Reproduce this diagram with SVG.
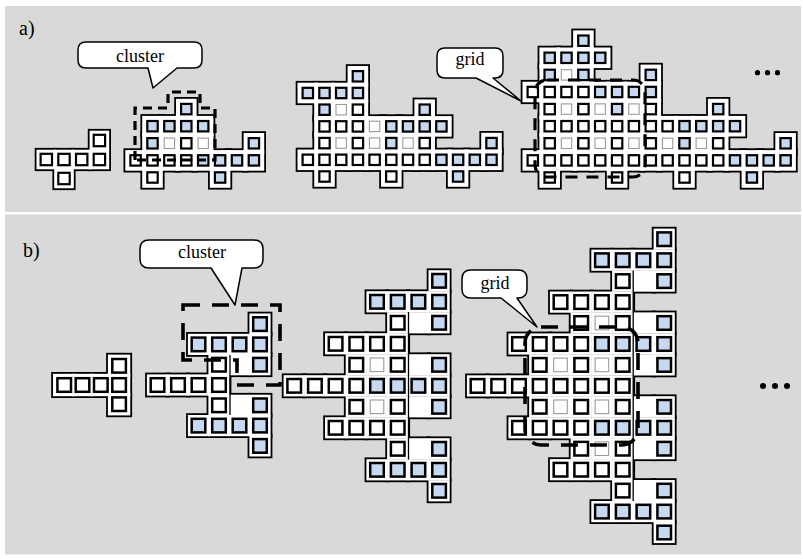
<svg xmlns="http://www.w3.org/2000/svg" width="803" height="559" viewBox="0 0 803 559">
<style>
.ol{fill:#000;stroke:#000;stroke-width:3.6}
.fi{fill:#fff;stroke:none}
.w{fill:#fff;stroke:#000;stroke-width:2.2}
.b{fill:#c5d9f1;stroke:#000;stroke-width:2.2}
.l{fill:#fff;stroke:#9a9a9a;stroke-width:1.1}
.pb .w,.pb .b{stroke-width:2.5}
.dsh{fill:none;stroke:#000;stroke-width:3.2;stroke-dasharray:9 6}
.dshb{fill:none;stroke:#000;stroke-width:3.6;stroke-dasharray:17 12}
.cb{fill:#fff;stroke:#000;stroke-width:1.5;stroke-linejoin:round}
.t{font-family:"Liberation Serif","Times New Roman",serif;font-size:18px;fill:#000}
.lab{font-family:"Liberation Serif","Times New Roman",serif;font-size:20px;fill:#000}
.il{stroke:#000;stroke-width:1.3}
</style>
<defs>
<rect id="pH" x="-9.8" y="-9.8" width="19.6" height="19.6"/>
<rect id="aH" x="-10.3" y="-10.3" width="20.6" height="20.6"/>
<rect id="bH" x="-10.6" y="-10.6" width="21.2" height="21.2"/>
<rect id="qH" x="-11.2" y="-11.2" width="22.4" height="22.4"/>
<rect id="pS" x="-5.7" y="-5.7" width="11.4" height="11.4"/>
<rect id="aS" x="-5.2" y="-5.2" width="10.4" height="10.4"/>
<rect id="bS" x="-6.8" y="-6.8" width="13.6" height="13.6"/>
<g id="a1p"><use href="#pH" x="99.4" y="140.5"/><use href="#pH" x="46.3" y="159.5"/><use href="#pH" x="64" y="159.5"/><use href="#pH" x="81.7" y="159.5"/><use href="#pH" x="99.4" y="159.5"/><use href="#pH" x="64" y="178.5"/></g>
<g id="a2p"><use href="#aH" x="186.3" y="109.1"/><use href="#aH" x="152.5" y="126.2"/><use href="#aH" x="169.4" y="126.2"/><use href="#aH" x="186.3" y="126.2"/><use href="#aH" x="203.2" y="126.2"/><use href="#aH" x="152.5" y="143.3"/><use href="#aH" x="169.4" y="143.3"/><use href="#aH" x="186.3" y="143.3"/><use href="#aH" x="203.2" y="143.3"/><use href="#aH" x="253.9" y="143.3"/><use href="#aH" x="135.6" y="160.4"/><use href="#aH" x="152.5" y="160.4"/><use href="#aH" x="169.4" y="160.4"/><use href="#aH" x="186.3" y="160.4"/><use href="#aH" x="203.2" y="160.4"/><use href="#aH" x="220.1" y="160.4"/><use href="#aH" x="237" y="160.4"/><use href="#aH" x="253.9" y="160.4"/><use href="#aH" x="152.5" y="177.5"/><use href="#aH" x="220.1" y="177.5"/></g>
<g id="a3p"><use href="#aH" x="357.9" y="76.3"/><use href="#aH" x="307.8" y="93"/><use href="#aH" x="324.5" y="93"/><use href="#aH" x="341.2" y="93"/><use href="#aH" x="357.9" y="93"/><use href="#aH" x="324.5" y="109.7"/><use href="#aH" x="341.2" y="109.7"/><use href="#aH" x="357.9" y="109.7"/><use href="#aH" x="424.7" y="109.7"/><use href="#aH" x="324.5" y="126.4"/><use href="#aH" x="341.2" y="126.4"/><use href="#aH" x="357.9" y="126.4"/><use href="#aH" x="374.6" y="126.4"/><use href="#aH" x="391.3" y="126.4"/><use href="#aH" x="408" y="126.4"/><use href="#aH" x="424.7" y="126.4"/><use href="#aH" x="441.4" y="126.4"/><use href="#aH" x="324.5" y="143.1"/><use href="#aH" x="341.2" y="143.1"/><use href="#aH" x="357.9" y="143.1"/><use href="#aH" x="374.6" y="143.1"/><use href="#aH" x="391.3" y="143.1"/><use href="#aH" x="408" y="143.1"/><use href="#aH" x="424.7" y="143.1"/><use href="#aH" x="491.5" y="143.1"/><use href="#aH" x="307.8" y="159.8"/><use href="#aH" x="324.5" y="159.8"/><use href="#aH" x="341.2" y="159.8"/><use href="#aH" x="357.9" y="159.8"/><use href="#aH" x="374.6" y="159.8"/><use href="#aH" x="391.3" y="159.8"/><use href="#aH" x="408" y="159.8"/><use href="#aH" x="424.7" y="159.8"/><use href="#aH" x="441.4" y="159.8"/><use href="#aH" x="458.1" y="159.8"/><use href="#aH" x="474.8" y="159.8"/><use href="#aH" x="491.5" y="159.8"/><use href="#aH" x="324.5" y="176.5"/><use href="#aH" x="391.3" y="176.5"/><use href="#aH" x="458.1" y="176.5"/></g>
<g id="a4p"><use href="#aH" x="583.4" y="40.7"/><use href="#aH" x="549.7" y="57.8"/><use href="#aH" x="566.5" y="57.8"/><use href="#aH" x="583.4" y="57.8"/><use href="#aH" x="600.2" y="57.8"/><use href="#aH" x="549.7" y="74.9"/><use href="#aH" x="566.5" y="74.9"/><use href="#aH" x="583.4" y="74.9"/><use href="#aH" x="650.8" y="74.9"/><use href="#aH" x="532.8" y="92"/><use href="#aH" x="549.7" y="92"/><use href="#aH" x="566.5" y="92"/><use href="#aH" x="583.4" y="92"/><use href="#aH" x="600.2" y="92"/><use href="#aH" x="617.1" y="92"/><use href="#aH" x="633.9" y="92"/><use href="#aH" x="650.8" y="92"/><use href="#aH" x="549.7" y="109.1"/><use href="#aH" x="566.5" y="109.1"/><use href="#aH" x="583.4" y="109.1"/><use href="#aH" x="600.2" y="109.1"/><use href="#aH" x="617.1" y="109.1"/><use href="#aH" x="633.9" y="109.1"/><use href="#aH" x="650.8" y="109.1"/><use href="#aH" x="718.2" y="109.1"/><use href="#aH" x="549.7" y="126.2"/><use href="#aH" x="566.5" y="126.2"/><use href="#aH" x="583.4" y="126.2"/><use href="#aH" x="600.2" y="126.2"/><use href="#aH" x="617.1" y="126.2"/><use href="#aH" x="633.9" y="126.2"/><use href="#aH" x="650.8" y="126.2"/><use href="#aH" x="667.6" y="126.2"/><use href="#aH" x="684.5" y="126.2"/><use href="#aH" x="701.3" y="126.2"/><use href="#aH" x="718.2" y="126.2"/><use href="#aH" x="735" y="126.2"/><use href="#aH" x="549.7" y="143.3"/><use href="#aH" x="566.5" y="143.3"/><use href="#aH" x="583.4" y="143.3"/><use href="#aH" x="600.2" y="143.3"/><use href="#aH" x="617.1" y="143.3"/><use href="#aH" x="633.9" y="143.3"/><use href="#aH" x="650.8" y="143.3"/><use href="#aH" x="667.6" y="143.3"/><use href="#aH" x="684.5" y="143.3"/><use href="#aH" x="701.3" y="143.3"/><use href="#aH" x="718.2" y="143.3"/><use href="#aH" x="785.6" y="143.3"/><use href="#aH" x="532.8" y="160.4"/><use href="#aH" x="549.7" y="160.4"/><use href="#aH" x="566.5" y="160.4"/><use href="#aH" x="583.4" y="160.4"/><use href="#aH" x="600.2" y="160.4"/><use href="#aH" x="617.1" y="160.4"/><use href="#aH" x="633.9" y="160.4"/><use href="#aH" x="650.8" y="160.4"/><use href="#aH" x="667.6" y="160.4"/><use href="#aH" x="684.5" y="160.4"/><use href="#aH" x="701.3" y="160.4"/><use href="#aH" x="718.2" y="160.4"/><use href="#aH" x="735" y="160.4"/><use href="#aH" x="751.9" y="160.4"/><use href="#aH" x="768.7" y="160.4"/><use href="#aH" x="785.6" y="160.4"/><use href="#aH" x="549.7" y="177.5"/><use href="#aH" x="617.1" y="177.5"/><use href="#aH" x="684.5" y="177.5"/><use href="#aH" x="751.9" y="177.5"/></g>
<g id="b1p"><use href="#qH" x="119.1" y="365.8"/><use href="#qH" x="64.2" y="385"/><use href="#qH" x="82.5" y="385"/><use href="#qH" x="100.8" y="385"/><use href="#qH" x="119.1" y="385"/><use href="#qH" x="119.1" y="404.2"/></g>
<g id="b2p"><use href="#bH" x="260" y="324.1"/><use href="#bH" x="198.5" y="344.4"/><use href="#bH" x="219" y="344.4"/><use href="#bH" x="239.5" y="344.4"/><use href="#bH" x="260" y="344.4"/><use href="#bH" x="219" y="364.7"/><use href="#bH" x="239.5" y="364.7"/><use href="#bH" x="260" y="364.7"/><use href="#bH" x="157.5" y="385"/><use href="#bH" x="178" y="385"/><use href="#bH" x="198.5" y="385"/><use href="#bH" x="219" y="385"/><use href="#bH" x="219" y="405.3"/><use href="#bH" x="239.5" y="405.3"/><use href="#bH" x="260" y="405.3"/><use href="#bH" x="198.5" y="425.6"/><use href="#bH" x="219" y="425.6"/><use href="#bH" x="239.5" y="425.6"/><use href="#bH" x="260" y="425.6"/><use href="#bH" x="260" y="445.9"/></g>
<g id="b3p"><use href="#bH" x="439.1" y="280.8"/><use href="#bH" x="377" y="301.8"/><use href="#bH" x="397.7" y="301.8"/><use href="#bH" x="418.4" y="301.8"/><use href="#bH" x="439.1" y="301.8"/><use href="#bH" x="397.7" y="322.8"/><use href="#bH" x="418.4" y="322.8"/><use href="#bH" x="439.1" y="322.8"/><use href="#bH" x="335.6" y="343.8"/><use href="#bH" x="356.3" y="343.8"/><use href="#bH" x="377" y="343.8"/><use href="#bH" x="397.7" y="343.8"/><use href="#bH" x="356.3" y="364.8"/><use href="#bH" x="377" y="364.8"/><use href="#bH" x="397.7" y="364.8"/><use href="#bH" x="418.4" y="364.8"/><use href="#bH" x="439.1" y="364.8"/><use href="#bH" x="294.2" y="385.8"/><use href="#bH" x="314.9" y="385.8"/><use href="#bH" x="335.6" y="385.8"/><use href="#bH" x="356.3" y="385.8"/><use href="#bH" x="377" y="385.8"/><use href="#bH" x="397.7" y="385.8"/><use href="#bH" x="418.4" y="385.8"/><use href="#bH" x="439.1" y="385.8"/><use href="#bH" x="356.3" y="406.8"/><use href="#bH" x="377" y="406.8"/><use href="#bH" x="397.7" y="406.8"/><use href="#bH" x="418.4" y="406.8"/><use href="#bH" x="439.1" y="406.8"/><use href="#bH" x="335.6" y="427.8"/><use href="#bH" x="356.3" y="427.8"/><use href="#bH" x="377" y="427.8"/><use href="#bH" x="397.7" y="427.8"/><use href="#bH" x="397.7" y="448.8"/><use href="#bH" x="418.4" y="448.8"/><use href="#bH" x="439.1" y="448.8"/><use href="#bH" x="377" y="469.8"/><use href="#bH" x="397.7" y="469.8"/><use href="#bH" x="418.4" y="469.8"/><use href="#bH" x="439.1" y="469.8"/><use href="#bH" x="439.1" y="490.8"/></g>
<g id="b4p"><use href="#bH" x="664.2" y="239.2"/><use href="#bH" x="601.9" y="260.2"/><use href="#bH" x="622.7" y="260.2"/><use href="#bH" x="643.4" y="260.2"/><use href="#bH" x="664.2" y="260.2"/><use href="#bH" x="622.7" y="281.1"/><use href="#bH" x="643.4" y="281.1"/><use href="#bH" x="664.2" y="281.1"/><use href="#bH" x="560.5" y="302.1"/><use href="#bH" x="581.2" y="302.1"/><use href="#bH" x="601.9" y="302.1"/><use href="#bH" x="622.7" y="302.1"/><use href="#bH" x="581.2" y="323"/><use href="#bH" x="601.9" y="323"/><use href="#bH" x="622.7" y="323"/><use href="#bH" x="643.4" y="323"/><use href="#bH" x="664.2" y="323"/><use href="#bH" x="519" y="344"/><use href="#bH" x="539.7" y="344"/><use href="#bH" x="560.5" y="344"/><use href="#bH" x="581.2" y="344"/><use href="#bH" x="601.9" y="344"/><use href="#bH" x="622.7" y="344"/><use href="#bH" x="643.4" y="344"/><use href="#bH" x="664.2" y="344"/><use href="#bH" x="539.7" y="364.9"/><use href="#bH" x="560.5" y="364.9"/><use href="#bH" x="581.2" y="364.9"/><use href="#bH" x="601.9" y="364.9"/><use href="#bH" x="622.7" y="364.9"/><use href="#bH" x="643.4" y="364.9"/><use href="#bH" x="664.2" y="364.9"/><use href="#bH" x="477.5" y="385.9"/><use href="#bH" x="498.2" y="385.9"/><use href="#bH" x="519" y="385.9"/><use href="#bH" x="539.7" y="385.9"/><use href="#bH" x="560.5" y="385.9"/><use href="#bH" x="581.2" y="385.9"/><use href="#bH" x="601.9" y="385.9"/><use href="#bH" x="622.7" y="385.9"/><use href="#bH" x="539.7" y="406.8"/><use href="#bH" x="560.5" y="406.8"/><use href="#bH" x="581.2" y="406.8"/><use href="#bH" x="601.9" y="406.8"/><use href="#bH" x="622.7" y="406.8"/><use href="#bH" x="643.4" y="406.8"/><use href="#bH" x="664.2" y="406.8"/><use href="#bH" x="519" y="427.8"/><use href="#bH" x="539.7" y="427.8"/><use href="#bH" x="560.5" y="427.8"/><use href="#bH" x="581.2" y="427.8"/><use href="#bH" x="601.9" y="427.8"/><use href="#bH" x="622.7" y="427.8"/><use href="#bH" x="643.4" y="427.8"/><use href="#bH" x="664.2" y="427.8"/><use href="#bH" x="581.2" y="448.7"/><use href="#bH" x="601.9" y="448.7"/><use href="#bH" x="622.7" y="448.7"/><use href="#bH" x="643.4" y="448.7"/><use href="#bH" x="664.2" y="448.7"/><use href="#bH" x="560.5" y="469.7"/><use href="#bH" x="581.2" y="469.7"/><use href="#bH" x="601.9" y="469.7"/><use href="#bH" x="622.7" y="469.7"/><use href="#bH" x="622.7" y="490.6"/><use href="#bH" x="643.4" y="490.6"/><use href="#bH" x="664.2" y="490.6"/><use href="#bH" x="601.9" y="511.6"/><use href="#bH" x="622.7" y="511.6"/><use href="#bH" x="643.4" y="511.6"/><use href="#bH" x="664.2" y="511.6"/><use href="#bH" x="664.2" y="532.5"/></g>
</defs>
<rect x="0" y="0" width="803" height="559" fill="#ffffff"/>
<rect x="5" y="6" width="796" height="206" fill="#d9d9d9"/>
<rect x="5" y="214.5" width="796" height="340" fill="#d9d9d9"/>
<text class="lab" x="19" y="34.5">a)</text>
<text class="lab" x="23" y="256.5">b)</text>

<g id="a-struct1">
<use href="#a1p" class="ol"/><use href="#a1p" class="fi"/>
<use href="#pS" class="w" x="99.4" y="140.5"/><use href="#pS" class="w" x="46.3" y="159.5"/><use href="#pS" class="w" x="64" y="159.5"/><use href="#pS" class="w" x="81.7" y="159.5"/><use href="#pS" class="w" x="99.4" y="159.5"/><use href="#pS" class="w" x="64" y="178.5"/>
</g>

<g id="a-struct2">
<use href="#a2p" class="ol"/><use href="#a2p" class="fi"/>
<use href="#aS" class="b" x="186.3" y="109.1"/><use href="#aS" class="b" x="152.5" y="126.2"/><use href="#aS" class="b" x="169.4" y="126.2"/><use href="#aS" class="b" x="186.3" y="126.2"/><use href="#aS" class="b" x="203.2" y="126.2"/><use href="#aS" class="b" x="152.5" y="143.3"/><use href="#aS" class="l" x="169.4" y="143.3"/><use href="#aS" class="w" x="186.3" y="143.3"/><use href="#aS" class="l" x="203.2" y="143.3"/><use href="#aS" class="b" x="253.9" y="143.3"/><use href="#aS" class="w" x="135.6" y="160.4"/><use href="#aS" class="w" x="152.5" y="160.4"/><use href="#aS" class="w" x="169.4" y="160.4"/><use href="#aS" class="w" x="186.3" y="160.4"/><use href="#aS" class="b" x="203.2" y="160.4"/><use href="#aS" class="b" x="220.1" y="160.4"/><use href="#aS" class="b" x="237" y="160.4"/><use href="#aS" class="b" x="253.9" y="160.4"/><use href="#aS" class="w" x="152.5" y="177.5"/><use href="#aS" class="b" x="220.1" y="177.5"/>
</g>

<g id="a-struct3">
<use href="#a3p" class="ol"/><use href="#a3p" class="fi"/>
<use href="#aS" class="b" x="357.9" y="76.3"/><use href="#aS" class="b" x="307.8" y="93"/><use href="#aS" class="b" x="324.5" y="93"/><use href="#aS" class="b" x="341.2" y="93"/><use href="#aS" class="b" x="357.9" y="93"/><use href="#aS" class="b" x="324.5" y="109.7"/><use href="#aS" class="l" x="341.2" y="109.7"/><use href="#aS" class="w" x="357.9" y="109.7"/><use href="#aS" class="b" x="424.7" y="109.7"/><use href="#aS" class="w" x="324.5" y="126.4"/><use href="#aS" class="w" x="341.2" y="126.4"/><use href="#aS" class="w" x="357.9" y="126.4"/><use href="#aS" class="l" x="374.6" y="126.4"/><use href="#aS" class="b" x="391.3" y="126.4"/><use href="#aS" class="b" x="408" y="126.4"/><use href="#aS" class="b" x="424.7" y="126.4"/><use href="#aS" class="b" x="441.4" y="126.4"/><use href="#aS" class="w" x="324.5" y="143.1"/><use href="#aS" class="l" x="341.2" y="143.1"/><use href="#aS" class="w" x="357.9" y="143.1"/><use href="#aS" class="l" x="374.6" y="143.1"/><use href="#aS" class="b" x="391.3" y="143.1"/><use href="#aS" class="l" x="408" y="143.1"/><use href="#aS" class="w" x="424.7" y="143.1"/><use href="#aS" class="b" x="491.5" y="143.1"/><use href="#aS" class="w" x="307.8" y="159.8"/><use href="#aS" class="w" x="324.5" y="159.8"/><use href="#aS" class="w" x="341.2" y="159.8"/><use href="#aS" class="w" x="357.9" y="159.8"/><use href="#aS" class="w" x="374.6" y="159.8"/><use href="#aS" class="w" x="391.3" y="159.8"/><use href="#aS" class="w" x="408" y="159.8"/><use href="#aS" class="w" x="424.7" y="159.8"/><use href="#aS" class="b" x="441.4" y="159.8"/><use href="#aS" class="b" x="458.1" y="159.8"/><use href="#aS" class="b" x="474.8" y="159.8"/><use href="#aS" class="b" x="491.5" y="159.8"/><use href="#aS" class="w" x="324.5" y="176.5"/><use href="#aS" class="w" x="391.3" y="176.5"/><use href="#aS" class="b" x="458.1" y="176.5"/>
</g>

<g id="a-struct4">
<use href="#a4p" class="ol"/><use href="#a4p" class="fi"/>
<use href="#aS" class="b" x="583.4" y="40.7"/><use href="#aS" class="b" x="549.7" y="57.8"/><use href="#aS" class="b" x="566.5" y="57.8"/><use href="#aS" class="b" x="583.4" y="57.8"/><use href="#aS" class="b" x="600.2" y="57.8"/><use href="#aS" class="b" x="549.7" y="74.9"/><use href="#aS" class="l" x="566.5" y="74.9"/><use href="#aS" class="b" x="583.4" y="74.9"/><use href="#aS" class="b" x="650.8" y="74.9"/><use href="#aS" class="w" x="532.8" y="92"/><use href="#aS" class="w" x="549.7" y="92"/><use href="#aS" class="w" x="566.5" y="92"/><use href="#aS" class="w" x="583.4" y="92"/><use href="#aS" class="b" x="600.2" y="92"/><use href="#aS" class="b" x="617.1" y="92"/><use href="#aS" class="b" x="633.9" y="92"/><use href="#aS" class="b" x="650.8" y="92"/><use href="#aS" class="w" x="549.7" y="109.1"/><use href="#aS" class="l" x="566.5" y="109.1"/><use href="#aS" class="w" x="583.4" y="109.1"/><use href="#aS" class="l" x="600.2" y="109.1"/><use href="#aS" class="b" x="617.1" y="109.1"/><use href="#aS" class="l" x="633.9" y="109.1"/><use href="#aS" class="w" x="650.8" y="109.1"/><use href="#aS" class="b" x="718.2" y="109.1"/><use href="#aS" class="w" x="549.7" y="126.2"/><use href="#aS" class="w" x="566.5" y="126.2"/><use href="#aS" class="w" x="583.4" y="126.2"/><use href="#aS" class="w" x="600.2" y="126.2"/><use href="#aS" class="w" x="617.1" y="126.2"/><use href="#aS" class="w" x="633.9" y="126.2"/><use href="#aS" class="w" x="650.8" y="126.2"/><use href="#aS" class="w" x="667.6" y="126.2"/><use href="#aS" class="b" x="684.5" y="126.2"/><use href="#aS" class="b" x="701.3" y="126.2"/><use href="#aS" class="b" x="718.2" y="126.2"/><use href="#aS" class="b" x="735" y="126.2"/><use href="#aS" class="w" x="549.7" y="143.3"/><use href="#aS" class="l" x="566.5" y="143.3"/><use href="#aS" class="w" x="583.4" y="143.3"/><use href="#aS" class="l" x="600.2" y="143.3"/><use href="#aS" class="w" x="617.1" y="143.3"/><use href="#aS" class="l" x="633.9" y="143.3"/><use href="#aS" class="w" x="650.8" y="143.3"/><use href="#aS" class="l" x="667.6" y="143.3"/><use href="#aS" class="b" x="684.5" y="143.3"/><use href="#aS" class="l" x="701.3" y="143.3"/><use href="#aS" class="w" x="718.2" y="143.3"/><use href="#aS" class="b" x="785.6" y="143.3"/><use href="#aS" class="w" x="532.8" y="160.4"/><use href="#aS" class="w" x="549.7" y="160.4"/><use href="#aS" class="w" x="566.5" y="160.4"/><use href="#aS" class="w" x="583.4" y="160.4"/><use href="#aS" class="w" x="600.2" y="160.4"/><use href="#aS" class="w" x="617.1" y="160.4"/><use href="#aS" class="w" x="633.9" y="160.4"/><use href="#aS" class="w" x="650.8" y="160.4"/><use href="#aS" class="w" x="667.6" y="160.4"/><use href="#aS" class="w" x="684.5" y="160.4"/><use href="#aS" class="w" x="701.3" y="160.4"/><use href="#aS" class="w" x="718.2" y="160.4"/><use href="#aS" class="b" x="735" y="160.4"/><use href="#aS" class="b" x="751.9" y="160.4"/><use href="#aS" class="b" x="768.7" y="160.4"/><use href="#aS" class="b" x="785.6" y="160.4"/><use href="#aS" class="w" x="549.7" y="177.5"/><use href="#aS" class="w" x="617.1" y="177.5"/><use href="#aS" class="w" x="684.5" y="177.5"/><use href="#aS" class="b" x="751.9" y="177.5"/>
</g>

<g class="pb">
<g id="b-struct1">
<use href="#b1p" class="ol"/><use href="#b1p" class="fi"/>
<use href="#bS" class="w" x="119.1" y="365.8"/><use href="#bS" class="w" x="64.2" y="385"/><use href="#bS" class="w" x="82.5" y="385"/><use href="#bS" class="w" x="100.8" y="385"/><use href="#bS" class="w" x="119.1" y="385"/><use href="#bS" class="w" x="119.1" y="404.2"/>
</g>

<g id="b-struct2">
<use href="#b2p" class="ol"/><use href="#b2p" class="fi"/>
<line class="il" x1="230" y1="355" x2="230" y2="415"/>
<use href="#bS" class="b" x="260" y="324.1"/><use href="#bS" class="b" x="198.5" y="344.4"/><use href="#bS" class="b" x="219" y="344.4"/><use href="#bS" class="b" x="239.5" y="344.4"/><use href="#bS" class="b" x="260" y="344.4"/><use href="#bS" class="w" x="219" y="364.7"/><use href="#bS" class="b" x="260" y="364.7"/><use href="#bS" class="w" x="157.5" y="385"/><use href="#bS" class="w" x="178" y="385"/><use href="#bS" class="w" x="198.5" y="385"/><use href="#bS" class="w" x="219" y="385"/><use href="#bS" class="w" x="219" y="405.3"/><use href="#bS" class="b" x="260" y="405.3"/><use href="#bS" class="b" x="198.5" y="425.6"/><use href="#bS" class="b" x="219" y="425.6"/><use href="#bS" class="b" x="239.5" y="425.6"/><use href="#bS" class="b" x="260" y="425.6"/><use href="#bS" class="b" x="260" y="445.9"/>
</g>

<g id="b-struct3">
<use href="#b3p" class="ol"/><use href="#b3p" class="fi"/>
<line class="il" x1="408.5" y1="312" x2="408.5" y2="459.5"/>
<use href="#bS" class="b" x="439.1" y="280.8"/><use href="#bS" class="b" x="377" y="301.8"/><use href="#bS" class="b" x="397.7" y="301.8"/><use href="#bS" class="b" x="418.4" y="301.8"/><use href="#bS" class="b" x="439.1" y="301.8"/><use href="#bS" class="w" x="397.7" y="322.8"/><use href="#bS" class="b" x="439.1" y="322.8"/><use href="#bS" class="w" x="335.6" y="343.8"/><use href="#bS" class="w" x="356.3" y="343.8"/><use href="#bS" class="w" x="377" y="343.8"/><use href="#bS" class="w" x="397.7" y="343.8"/><use href="#bS" class="w" x="356.3" y="364.8"/><use href="#bS" class="l" x="377" y="364.8"/><use href="#bS" class="w" x="397.7" y="364.8"/><use href="#bS" class="b" x="439.1" y="364.8"/><use href="#bS" class="w" x="294.2" y="385.8"/><use href="#bS" class="w" x="314.9" y="385.8"/><use href="#bS" class="w" x="335.6" y="385.8"/><use href="#bS" class="w" x="356.3" y="385.8"/><use href="#bS" class="b" x="377" y="385.8"/><use href="#bS" class="b" x="397.7" y="385.8"/><use href="#bS" class="b" x="418.4" y="385.8"/><use href="#bS" class="b" x="439.1" y="385.8"/><use href="#bS" class="w" x="356.3" y="406.8"/><use href="#bS" class="l" x="377" y="406.8"/><use href="#bS" class="w" x="397.7" y="406.8"/><use href="#bS" class="b" x="439.1" y="406.8"/><use href="#bS" class="w" x="335.6" y="427.8"/><use href="#bS" class="w" x="356.3" y="427.8"/><use href="#bS" class="w" x="377" y="427.8"/><use href="#bS" class="w" x="397.7" y="427.8"/><use href="#bS" class="w" x="397.7" y="448.8"/><use href="#bS" class="b" x="439.1" y="448.8"/><use href="#bS" class="b" x="377" y="469.8"/><use href="#bS" class="b" x="397.7" y="469.8"/><use href="#bS" class="b" x="418.4" y="469.8"/><use href="#bS" class="b" x="439.1" y="469.8"/><use href="#bS" class="b" x="439.1" y="490.8"/>
</g>

<g id="b-struct4">
<use href="#b4p" class="ol"/><use href="#b4p" class="fi"/>
<line class="il" x1="633.2" y1="270.5" x2="633.2" y2="501"/>
<use href="#bS" class="b" x="664.2" y="239.2"/><use href="#bS" class="b" x="601.9" y="260.2"/><use href="#bS" class="b" x="622.7" y="260.2"/><use href="#bS" class="b" x="643.4" y="260.2"/><use href="#bS" class="b" x="664.2" y="260.2"/><use href="#bS" class="w" x="622.7" y="281.1"/><use href="#bS" class="b" x="664.2" y="281.1"/><use href="#bS" class="w" x="560.5" y="302.1"/><use href="#bS" class="w" x="581.2" y="302.1"/><use href="#bS" class="w" x="601.9" y="302.1"/><use href="#bS" class="w" x="622.7" y="302.1"/><use href="#bS" class="w" x="581.2" y="323"/><use href="#bS" class="l" x="601.9" y="323"/><use href="#bS" class="w" x="622.7" y="323"/><use href="#bS" class="b" x="664.2" y="323"/><use href="#bS" class="w" x="519" y="344"/><use href="#bS" class="w" x="539.7" y="344"/><use href="#bS" class="w" x="560.5" y="344"/><use href="#bS" class="w" x="581.2" y="344"/><use href="#bS" class="b" x="601.9" y="344"/><use href="#bS" class="b" x="622.7" y="344"/><use href="#bS" class="b" x="643.4" y="344"/><use href="#bS" class="b" x="664.2" y="344"/><use href="#bS" class="w" x="539.7" y="364.9"/><use href="#bS" class="l" x="560.5" y="364.9"/><use href="#bS" class="w" x="581.2" y="364.9"/><use href="#bS" class="l" x="601.9" y="364.9"/><use href="#bS" class="w" x="622.7" y="364.9"/><use href="#bS" class="b" x="664.2" y="364.9"/><use href="#bS" class="w" x="477.5" y="385.9"/><use href="#bS" class="w" x="498.2" y="385.9"/><use href="#bS" class="w" x="519" y="385.9"/><use href="#bS" class="w" x="539.7" y="385.9"/><use href="#bS" class="w" x="560.5" y="385.9"/><use href="#bS" class="w" x="581.2" y="385.9"/><use href="#bS" class="w" x="601.9" y="385.9"/><use href="#bS" class="w" x="622.7" y="385.9"/><use href="#bS" class="w" x="539.7" y="406.8"/><use href="#bS" class="l" x="560.5" y="406.8"/><use href="#bS" class="w" x="581.2" y="406.8"/><use href="#bS" class="l" x="601.9" y="406.8"/><use href="#bS" class="w" x="622.7" y="406.8"/><use href="#bS" class="b" x="664.2" y="406.8"/><use href="#bS" class="w" x="519" y="427.8"/><use href="#bS" class="w" x="539.7" y="427.8"/><use href="#bS" class="w" x="560.5" y="427.8"/><use href="#bS" class="w" x="581.2" y="427.8"/><use href="#bS" class="b" x="601.9" y="427.8"/><use href="#bS" class="b" x="622.7" y="427.8"/><use href="#bS" class="b" x="643.4" y="427.8"/><use href="#bS" class="b" x="664.2" y="427.8"/><use href="#bS" class="w" x="581.2" y="448.7"/><use href="#bS" class="l" x="601.9" y="448.7"/><use href="#bS" class="w" x="622.7" y="448.7"/><use href="#bS" class="b" x="664.2" y="448.7"/><use href="#bS" class="w" x="560.5" y="469.7"/><use href="#bS" class="w" x="581.2" y="469.7"/><use href="#bS" class="w" x="601.9" y="469.7"/><use href="#bS" class="w" x="622.7" y="469.7"/><use href="#bS" class="w" x="622.7" y="490.6"/><use href="#bS" class="b" x="664.2" y="490.6"/><use href="#bS" class="b" x="601.9" y="511.6"/><use href="#bS" class="b" x="622.7" y="511.6"/><use href="#bS" class="b" x="643.4" y="511.6"/><use href="#bS" class="b" x="664.2" y="511.6"/><use href="#bS" class="b" x="664.2" y="532.5"/>
</g>
</g>

<g id="outlines">
<path class="dsh" d="M135,160 V108 H168 V92 H200 V108 H215 V160 Z"/>
<rect class="dsh" x="535" y="80" width="110" height="97" rx="12" style="stroke-dasharray:12 9"/>
<path class="dshb" d="M183,305 H280 V385 H237 V360 H183 Z"/>
<rect class="dshb" x="525" y="327" width="113" height="118" rx="16"/>
</g>

<g id="callout-a-cluster">
<path class="cb" d="M86,42 H194 Q202,42 202,50 V60 Q202,68 194,68 H177 L153,88 L148,68 H86 Q78,68 78,60 V50 Q78,42 86,42 Z"/>
<text class="t" x="140" y="62" text-anchor="middle">cluster</text>
</g>
<g id="callout-a-grid">
<path class="cb" d="M445,48 H495 Q503,48 503,56 V70 Q503,78 495,78 H493 L521,101 L476,78 H445 Q437,78 437,70 V56 Q437,48 445,48 Z"/>
<text class="t" x="470" y="65" text-anchor="middle">grid</text>
</g>
<g id="callout-b-cluster">
<path class="cb" d="M149,240 H254 Q263,240 263,249 V259 Q263,268 254,268 H242 L235,305 L211,268 H149 Q140,268 140,259 V249 Q140,240 149,240 Z"/>
<text class="t" x="202" y="258" text-anchor="middle">cluster</text>
</g>
<g id="callout-b-grid">
<path class="cb" d="M471,270 H518 Q527,270 527,279 V289 Q527,298 518,298 H517 L537,327 L501,298 H471 Q462,298 462,289 V279 Q462,270 471,270 Z"/>
<text class="t" x="495" y="289" text-anchor="middle">grid</text>
</g>

<g id="ellipsis-a"><circle cx="757.5" cy="72.7" r="2.6"/><circle cx="767.5" cy="72.7" r="2.6"/><circle cx="777.5" cy="72.7" r="2.6"/></g>
<g id="ellipsis-b"><circle cx="763" cy="386" r="3"/><circle cx="775" cy="386" r="3"/><circle cx="787" cy="386" r="3"/></g>
</svg>
